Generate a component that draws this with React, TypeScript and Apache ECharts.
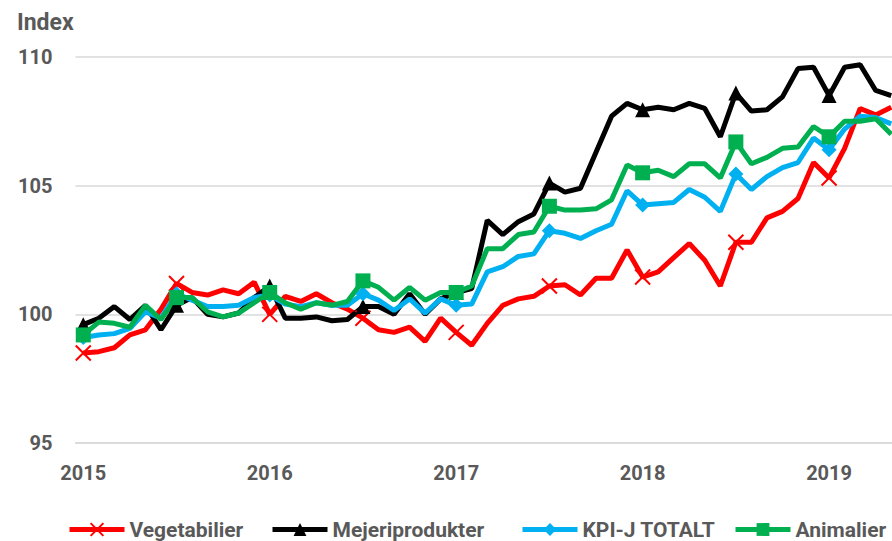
import React, { useEffect, useRef } from "react";
import * as echarts from "echarts";

const years = ["2015", "2016", "2017", "2018", "2019"];
const monthsInLastYear = 5;
const categories: string[] = [];
years.forEach((y, yi) => {
  const n = yi === years.length - 1 ? monthsInLastYear : 12;
  for (let m = 1; m <= n; m++) categories.push(`${y}-${m < 10 ? "0" + m : m}`);
});

const vegetabilier = [
  98.5, 98.55, 98.7, 99.2, 99.4, 100.2, 101.2, 100.85, 100.75, 100.95, 100.8, 101.25,
  100.0, 100.7, 100.5, 100.8, 100.45, 100.2, 99.85, 99.4, 99.3, 99.5, 98.95, 99.85,
  99.3, 98.8, 99.65, 100.35, 100.6, 100.7, 101.1, 101.15, 100.75, 101.4, 101.4, 102.5,
  101.45, 101.65, 102.2, 102.75, 102.1, 101.1, 102.8, 102.8, 103.75, 104.0, 104.5, 105.9,
  105.3, 106.45, 108.0, 107.75, 108.05,
];
const mejeriprodukter = [
  99.6, 99.85, 100.3, 99.8, 100.35, 99.4, 100.35, 100.65, 100.0, 99.9, 100.05, 100.65,
  101.1, 99.85, 99.85, 99.9, 99.75, 99.8, 100.3, 100.3, 100.0, 100.8, 100.0, 100.6,
  100.85, 101.0, 103.65, 103.1, 103.6, 103.9, 105.1, 104.75, 104.9, 106.3, 107.7, 108.2,
  107.95, 108.05, 107.95, 108.2, 108.0, 106.9, 108.6, 107.9, 107.95, 108.45, 109.55, 109.6,
  108.5, 109.6, 109.7, 108.7, 108.5,
];
const kpiTotalt = [
  99.1, 99.2, 99.25, 99.45, 100.1, 99.85, 100.8, 100.55, 100.3, 100.3, 100.35, 100.65,
  100.75, 100.4, 100.3, 100.45, 100.35, 100.35, 100.8, 100.55, 100.15, 100.6, 100.05, 100.6,
  100.35, 100.4, 101.65, 101.85, 102.25, 102.35, 103.25, 103.15, 102.95, 103.25, 103.5, 104.8,
  104.25, 104.3, 104.35, 104.85, 104.55, 104.0, 105.45, 104.85, 105.35, 105.7, 105.9, 106.85,
  106.4, 107.2, 107.7, 107.65, 107.4,
];
const animalier = [
  99.2, 99.7, 99.65, 99.5, 100.35, 99.8, 100.65, 100.65, 100.1, 99.9, 100.05, 100.45,
  100.85, 100.45, 100.2, 100.45, 100.35, 100.5, 101.3, 101.05, 100.55, 101.05, 100.55, 100.85,
  100.85, 101.1, 102.55, 102.55, 103.1, 103.2, 104.2, 104.05, 104.05, 104.1, 104.45, 105.8,
  105.5, 105.6, 105.35, 105.85, 105.85, 105.3, 106.7, 105.85, 106.1, 106.45, 106.5, 107.3,
  106.9, 107.5, 107.5, 107.6, 107.0,
];

const seriesNames = ["Vegetabilier", "Mejeriprodukter", "KPI-J TOTALT", "Animalier"];
const legendLefts = [62, 265, 515, 728];
const textColor = "#595959";
const font = "Roboto, 'Liberation Sans', sans-serif";

const markerEvery = 6;

function withMarkers(values: number[]) {
  return values.map((v, i) => (i % markerEvery === 0 ? v : { value: v, symbol: "none" }));
}

export default function App() {
  const ref = useRef<HTMLDivElement>(null);
  useEffect(() => {
    if (!ref.current) return;
    const chart = echarts.init(ref.current, undefined, { renderer: "svg" });
    const mk = (
      name: string,
      values: number[],
      color: string,
      symbol: string,
      symbolSize: number,
      border: boolean
    ) => ({
      name,
      type: "line",
      data: withMarkers(values),
      symbol,
      symbolSize,
      showAllSymbol: true,
      lineStyle: { color, width: 5 },
      itemStyle: border
        ? { color, borderColor: color, borderWidth: 2 }
        : { color, borderWidth: 0 },
      z: 2,
    });
    chart.setOption({
      animation: false,
      textStyle: { fontFamily: font },
      title: {
        text: "Index",
        left: 12,
        top: 6,
        textStyle: { color: textColor, fontSize: 23, fontWeight: "bold", fontFamily: font },
      },
      legend: seriesNames.map((name, i) => ({
        left: legendLefts[i],
        top: 514,
        itemWidth: 55,
        itemHeight: 16,
        data: [name],
        lineStyle: { width: 5 },
        textStyle: { color: textColor, fontSize: 21, fontWeight: "bold", fontFamily: font },
      })),
      grid: { left: 75.5, right: 0, top: 57, bottom: 98 },
      xAxis: {
        type: "category",
        data: categories,
        boundaryGap: true,
        axisLine: { lineStyle: { color: "#d9d9d9", width: 1.5 } },
        axisTick: { interval: 1, length: 7, lineStyle: { color: "#d9d9d9", width: 1.5 } },
        axisLabel: {
          interval: 11,
          margin: 20,
          formatter: (v: string) => v.slice(0, 4),
          color: textColor,
          fontSize: 20,
          fontWeight: "bold",
          fontFamily: font,
        },
        splitLine: { show: false },
      },
      yAxis: {
        type: "value",
        min: 95,
        max: 110,
        interval: 5,
        axisLine: { show: false },
        axisTick: { show: false },
        axisLabel: { margin: 23, color: textColor, fontSize: 20, fontWeight: "bold", fontFamily: font },
        splitLine: { lineStyle: { color: "#d9d9d9", width: 1.5 } },
      },
      series: [
        mk(seriesNames[0], vegetabilier, "#ff0000", "path://M0 0L10 10M10 0L0 10", 15, true),
        mk(seriesNames[1], mejeriprodukter, "#000000", "triangle", 15, false),
        mk(seriesNames[2], kpiTotalt, "#00b0f0", "diamond", 15, false),
        mk(seriesNames[3], animalier, "#00b050", "rect", 15, false),
      ],
    });
    return () => chart.dispose();
  }, []);
  return (
    <div
      ref={ref}
      style={{ position: "fixed", left: 0, top: 0, width: 899, height: 541, background: "#fff" }}
    />
  );
}
